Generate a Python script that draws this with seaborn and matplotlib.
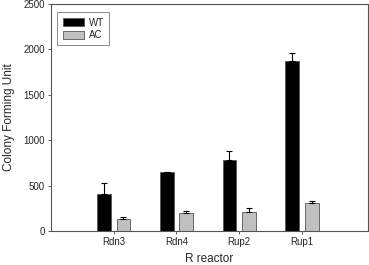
import matplotlib
matplotlib.use('agg')
from matplotlib import pyplot as plt
import numpy as np
import pandas as pd
import seaborn as sns

reactors = ['Rdn3', 'Rdn4', 'Rup2', 'Rup1']
wt_cfu = [405, 645, 785, 1875]
wt_err = [125, 5, 95, 90]
ac_cfu = [130, 200, 215, 310]
ac_err = [20, 25, 35, 25]

df = pd.DataFrame({
    'reactor': reactors * 2,
    'cfu': wt_cfu + ac_cfu,
    'strain': ['WT'] * 4 + ['AC'] * 4,
})

sns.set_style('ticks')
plt.rcParams['font.family'] = ['Liberation Sans', 'DejaVu Sans']

fig = plt.figure(figsize=(3.69, 2.65), dpi=100)
ax = fig.add_axes([0.138, 0.128, 0.859, 0.857])

ax = sns.barplot(data=df, x='reactor', y='cfu', hue='strain', order=reactors,
                 hue_order=['WT', 'AC'], palette=['black', '#c0c0c0'],
                 width=0.62, gap=0.3, errorbar=None, edgecolor='#555555',
                 linewidth=0.6, ax=ax)

# error bars, upper only
for cont, vals, errs in zip(ax.containers, [wt_cfu, ac_cfu], [wt_err, ac_err]):
    xs = [p.get_x() + p.get_width() / 2 for p in cont.patches]
    ax.errorbar(xs, vals, yerr=[np.zeros(len(errs)), errs], fmt='none',
                ecolor='black', elinewidth=0.8, capsize=2.5, capthick=0.8)

ax.set_xlim(-1.0, 4.05)
ax.set_ylim(0, 2500)
ax.set_yticks([0, 500, 1000, 1500, 2000, 2500])
ax.set_xlabel('R reactor', fontsize=8.5, labelpad=4)
ax.set_ylabel('Colony Forming Unit', fontsize=8.5, labelpad=6)
ax.tick_params(labelsize=7, length=2.5, width=0.6, color='#444444', pad=2)
for s in ax.spines.values():
    s.set_color('#555555')
    s.set_linewidth(0.8)

leg = ax.legend(loc='upper left', fontsize=7, frameon=True, fancybox=False,
                edgecolor='#555555', handlelength=2.2, handleheight=0.9,
                borderpad=0.55, labelspacing=0.25, handletextpad=0.5,
                bbox_to_anchor=(0.005, 0.985))
leg.get_frame().set_linewidth(0.6)

plt.savefig('out.png', dpi=100)
plt.close()
